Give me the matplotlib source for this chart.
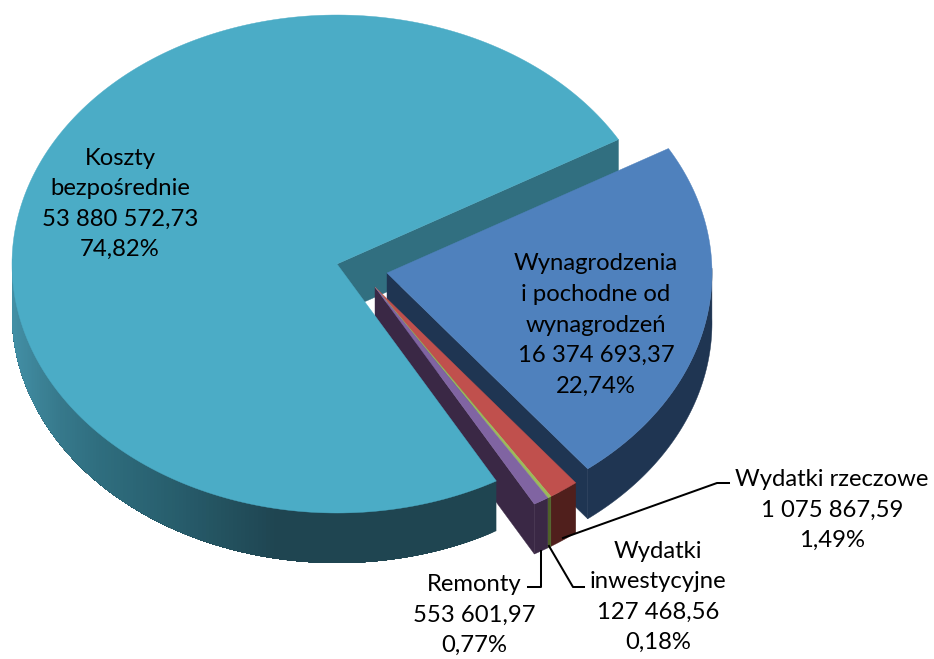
import numpy as np
import matplotlib
matplotlib.use("Agg")
import matplotlib.pyplot as plt
from matplotlib.colors import to_rgb

# ---- data (clockwise from the start angle) ----
names = ["Wynagrodzenia\ni pochodne od\nwynagrodzeń", "Wydatki rzeczowe", "Wydatki\ninwestycyjne", "Remonty", "Koszty\nbezpośrednie"]
values = [16374693.37, 1075867.59, 127468.56, 553601.97, 53880572.73]
percents = ["22,74%", "1,49%", "0,18%", "0,77%", "74,82%"]

# ---- style ----
top_colors = ["#4f81bd", "#c0504d", "#9bbb59", "#8064a2", "#4bacc6"]
wall_colors = ["#1f3552", "#501f1c", "#4f6228", "#3a2845", "#1f4551"]
inner_main = "#316f80"
START = 30.0
A, B, DEPTH = 325.0, 249.0, 50.0
apex = [(387, 273), (375, 287), (375, 287), (375, 287), (337, 264)]
grad_x = [12, 60, 100, 170, 280, 500]
grad_c = ["#4390a6", "#37798c", "#2f6e7f", "#285f6e", "#1f4551", "#1f4551"]
label_xy = [(596, 325), (832, 510), (658, 597), (474, 615), (120, 204)]

fig = plt.figure(figsize=(9.34, 6.59), dpi=100)
ax = fig.add_axes([0, 0, 1, 1])
ax.set_xlim(0, 934)
ax.set_ylim(659, 0)
ax.axis("off")

total = sum(values)
sweeps = [v / total * 360 for v in values]
ends = START - np.cumsum(sweeps)
starts = ends + np.array(sweeps)


def arc(i, t0, t1, n=240):
    t = np.radians(np.linspace(t0, t1, n))
    return apex[i][0] + A * np.cos(t), apex[i][1] - B * np.sin(t)


def top_face(i, z):
    x, y = arc(i, starts[i], ends[i])
    ax.fill(np.r_[apex[i][0], x], np.r_[apex[i][1], y], color=top_colors[i], lw=0.3, zorder=z)


def outer_wall(i, z, shaded=False):
    # only the part of the rim facing the viewer (sin < 0)
    ts = np.linspace(starts[i], ends[i], 721 if shaded else 120)
    ts = ts[np.sin(np.radians(ts)) <= 0.02]
    if len(ts) < 2:
        return
    x, y = arc(i, ts[0], ts[-1], len(ts))
    if not shaded:
        ax.fill(np.r_[x, x[::-1]], np.r_[y, y[::-1] + DEPTH], color=wall_colors[i], lw=0.3, zorder=z)
        return
    rgb = np.array([to_rgb(c) for c in grad_c])
    # each strip reaches to the far end of the rim and is painted over by the next: no seams
    order = np.arange(len(x) - 1)
    for k in order[::2]:
        col = [np.interp(x[k], grad_x, rgb[:, c]) for c in range(3)]
        ax.fill(np.r_[x[k:], x[k:][::-1]], np.r_[y[k:], y[k:][::-1] + DEPTH],
                color=col, lw=0, zorder=z)


def radial_wall(i, theta, color, z):
    x, y = arc(i, theta, theta, 1)
    ax0, ay0 = apex[i]
    ax.fill([ax0, x[0], x[0], ax0], [ay0, y[0], y[0] + DEPTH, ay0 + DEPTH], color=color, lw=0.3, zorder=z)


# main slice: inner wall at the back
radial_wall(4, ends[4], inner_main, 1)
# Wynagrodzenia
radial_wall(0, ends[0], wall_colors[0], 2)
outer_wall(0, 2)
top_face(0, 3)
# small slices
radial_wall(3, ends[3], wall_colors[3], 4)
for i in (1, 2, 3):
    outer_wall(i, 4)
    top_face(i, 5)
# main slice front
outer_wall(4, 6, shaded=True)
top_face(4, 7)


def fmt(v):
    return f"{v:,.2f}".replace(",", " ").replace(".", ",")


for i in range(5):
    ax.text(label_xy[i][0], label_xy[i][1], f"{names[i]}\n{fmt(values[i])}\n{percents[i]}",
            ha="center", va="center", ma="center", family="Lato", fontsize=17.2,
            linespacing=1.56, color="black", zorder=10)

# leader lines
leaders = [
    ([563, 717, 729], [538, 483, 483]),
    ([549, 573, 584], [546, 587, 587]),
    ([541, 541, 528], [551, 587, 587]),
]
for lx, ly in leaders:
    ax.plot(lx, ly, color="black", lw=1.45, solid_joinstyle="round", zorder=9)

fig.savefig("out.png", dpi=100)
